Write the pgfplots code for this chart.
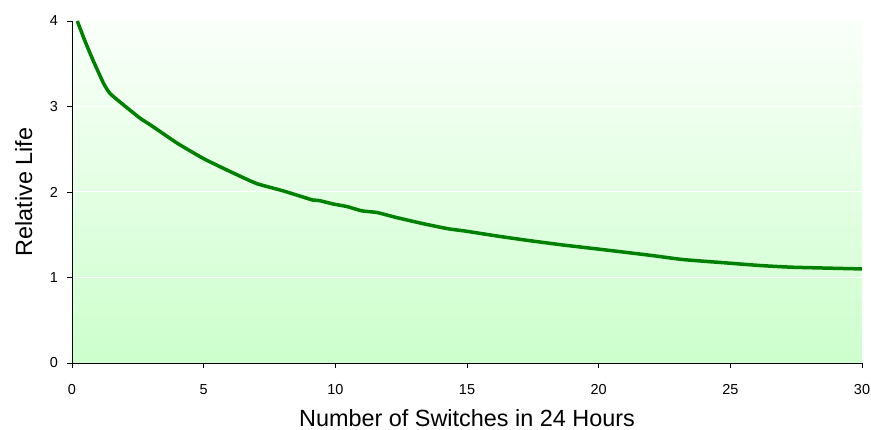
\documentclass[border=0pt]{standalone}
\usepackage{fontspec}
\setmainfont{Liberation Sans}
\usepackage{pgfplots}
\pgfplotsset{compat=1.18}
\definecolor{bgtop}{HTML}{FAFFFA}
\definecolor{bgbot}{HTML}{CCFFCC}
\definecolor{linegreen}{HTML}{008000}
\begin{document}
\begin{tikzpicture}
\begin{axis}[
  at={(0,0)}, anchor=south west,
  scale only axis, width=790bp, height=342bp,
  xmin=0, xmax=30, ymin=0, ymax=4,
  axis x line*=bottom, axis y line*=left,
  axis line style={black, line width=0.8bp},
  xtick={0,5,...,30}, ytick={0,1,2,3,4},
  tick align=outside, major tick length=5bp,
  tick style={black, line width=0.6bp},
  ymajorgrids, grid style={white, line width=1bp},
  axis background/.style={shade, top color=bgtop, bottom color=bgbot},
  /pgf/number format/assume math mode=true,
  tick label style={font=\fontsize{14.5}{17}\selectfont},
  xticklabel style={anchor=base, inner sep=0pt, yshift=-26bp},
  yticklabel style={anchor=east, inner sep=0pt, xshift=-9bp},
  xlabel={Number of Switches in 24 Hours},
  ylabel={Relative Life},
  label style={font=\fontsize{23.5}{26}\selectfont},
  xlabel style={at={(axis description cs:0.5,-0.1855)}, anchor=base, inner sep=0pt},
  ylabel style={at={(axis description cs:-0.0506,0.5)}, anchor=base, inner sep=0pt},
]
\addplot[linegreen, line width=3.5bp, smooth, tension=0.3] coordinates {
(0.2,4.00) (0.5,3.76) (0.8,3.54) (1.2,3.27) (1.45,3.15) (1.95,3.02)
(2.6,2.86) (3.0,2.78) (4.0,2.57) (5.0,2.39) (6.0,2.24) (7.0,2.10)
(8.0,2.015) (9.04,1.915) (9.15,1.906) (9.42,1.898) (9.91,1.86)
(10.44,1.83) (11.0,1.78) (11.58,1.76) (12.34,1.70) (13.33,1.63)
(14.28,1.57) (15.0,1.54) (16.25,1.48) (17.4,1.43) (18.65,1.38)
(20.05,1.33) (21.95,1.26) (23.2,1.21) (24.87,1.17) (26.13,1.14)
(27.38,1.12) (30,1.10)
};
\end{axis}
\pgfresetboundingbox
\path[use as bounding box] (-72bp,-67bp) rectangle (799bp,363bp);
\end{tikzpicture}
\end{document}
